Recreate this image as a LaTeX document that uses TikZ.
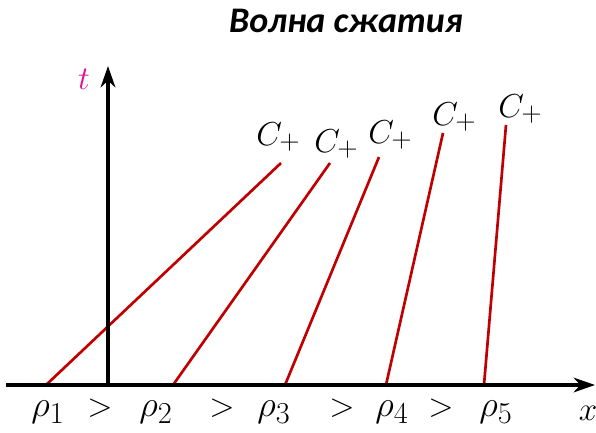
\documentclass[tikz,border=0pt]{standalone}
\usepackage{fontspec}
\setmainfont{Carlito}
\usetikzlibrary{arrows.meta}

\definecolor{wavered}{RGB}{192,0,0}
\definecolor{tmagenta}{RGB}{224,16,150}

\tikzset{
  axis/.style={line width=2.6pt,
    -{Stealth[length=16pt,width=11pt,inset=5pt]}},
  charline/.style={wavered,line width=2pt},
  mathlbl/.style={inner sep=0pt,font=\fontsize{24.88}{29}\selectfont},
  rholbl/.style={mathlbl,scale=1.1},
}

\begin{document}
\begin{tikzpicture}[x=0.75pt,y=-0.75pt]

\useasboundingbox (0,0) rectangle (596,432);

%=================================================
% TITLE
%=================================================

\node[anchor=base,font=\fontsize{27}{32}\selectfont\bfseries\itshape]
(title) at (346,32)
{Волна сжатия};

%=================================================
% CHARACTERISTICS
%=================================================

\foreach \i/\xb/\xt/\yt in
{1/46/281/163,2/173/330/163,3/285/379/157,4/386/443/133,5/484/506/125}
{
\coordinate (b\i) at (\xb,385);
\coordinate (e\i) at (\xt,\yt);
\draw[charline]
(b\i)--(e\i);
}

\foreach \i/\x/\y in
{1/256/145,2/314/152,3/368/143,4/432/125,5/498/117}
{
\node[mathlbl,anchor=base west]
(c\i) at (\x,\y)
{$C_+$};
}

%=================================================
% AXES
%=================================================

\coordinate (xs) at (6,385);
\coordinate (xe) at (595,385);
\coordinate (o) at (108,385);
\coordinate (te) at (108,66);

\draw[axis] (xs)--(xe);
\draw[axis] (o)--(te);

\node[mathlbl,text=tmagenta]
(tlbl) at (84,79)
{$t$};

\node[mathlbl]
(xlbl) at (588,413)
{$x$};

%  densities

\foreach \i/\x in {1/48,2/156,3/274,4/392,5/496}
{
\node[rholbl]
(r\i) at (\x,412)
{$\rho_\i$};
}

\foreach \i/\x in {1/100,2/222,3/342,4/441}
{
\node[mathlbl]
(g\i) at (\x,408)
{$>$};
}

\end{tikzpicture}
\end{document}
